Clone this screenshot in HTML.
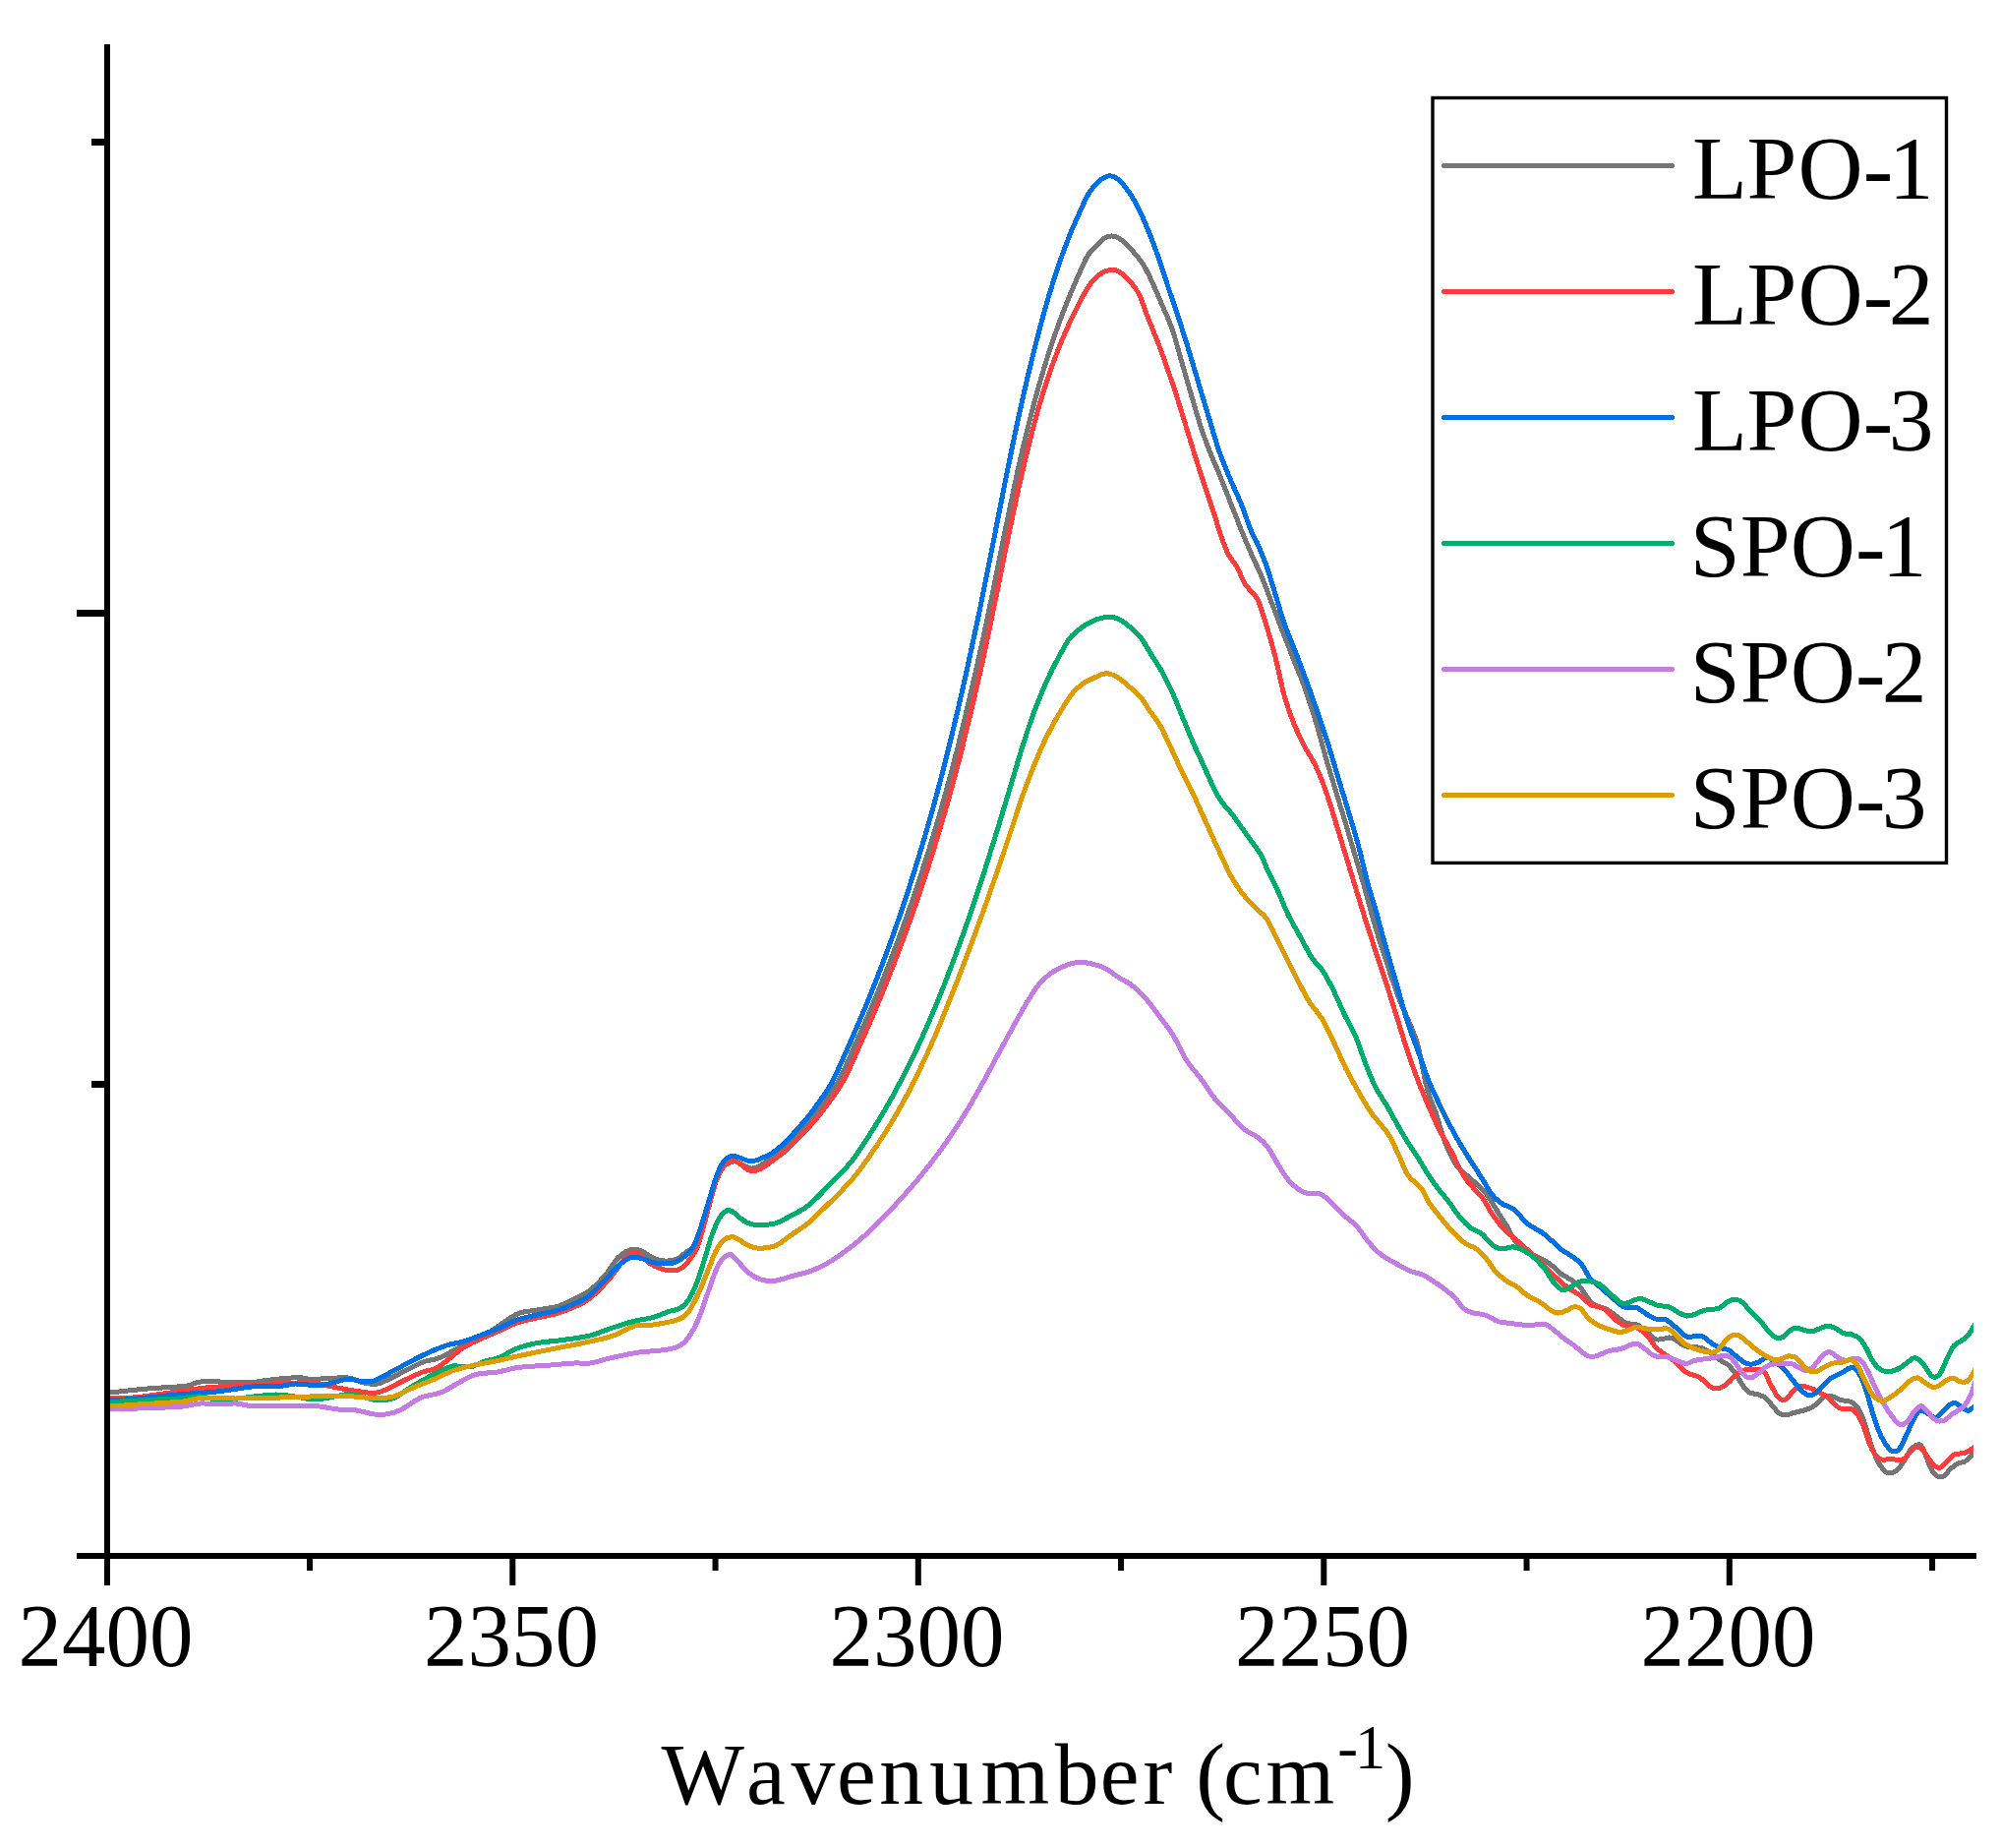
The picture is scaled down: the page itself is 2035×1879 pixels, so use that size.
<!DOCTYPE html>
<html lang="en"><head><meta charset="utf-8"><title>FTIR spectra 2400-2170 cm-1</title>
<style>html,body{margin:0;padding:0;background:#fff;}body{width:2035px;height:1879px;overflow:hidden;}svg{display:block;}text{font-family:'Liberation Serif', 'DejaVu Serif', serif;fill:#000;}</style></head><body>
<svg width="2035" height="1879" viewBox="0 0 2035 1879">
<rect x="0" y="0" width="2035" height="1879" fill="#fff"/>
<defs><clipPath id="plotclip"><rect x="109" y="40" width="1898" height="1542"/></clipPath></defs>
<g clip-path="url(#plotclip)" fill="none" stroke-width="5" stroke-linejoin="round" stroke-linecap="round" shape-rendering="crispEdges">
<path stroke="#757575" d="M100.0 1417.0C104.0 1416.7 108.0 1416.4 112.0 1416.0C124.7 1414.7 137.3 1413.1 150.0 1412.0C163.3 1410.8 176.7 1410.7 190.0 1409.0C194.7 1408.4 199.3 1405.5 204.0 1405.0C210.7 1404.2 217.3 1404.9 224.0 1405.0C234.7 1405.1 245.3 1405.9 256.0 1405.6C260.7 1405.5 265.3 1404.1 270.0 1403.6C278.7 1402.6 287.3 1401.6 296.0 1401.0C300.0 1400.7 304.0 1400.7 308.0 1401.0C310.7 1401.2 313.3 1402.4 316.0 1402.4C328.7 1402.4 341.3 1400.2 354.0 1401.0C359.3 1401.4 364.7 1404.9 370.0 1406.0C374.7 1406.9 379.3 1407.9 384.0 1407.0C389.3 1405.9 394.7 1402.6 400.0 1400.0C410.0 1395.2 420.0 1389.1 430.0 1385.0C435.3 1382.8 440.7 1383.0 446.0 1381.0C450.7 1379.3 455.3 1376.3 460.0 1374.0C466.7 1370.7 473.3 1367.5 480.0 1364.0C486.7 1360.5 493.3 1357.1 500.0 1353.0C508.7 1347.7 517.3 1340.0 526.0 1336.0C532.7 1333.0 539.3 1333.3 546.0 1332.0C553.3 1330.6 560.7 1330.2 568.0 1328.0C574.0 1326.2 580.0 1323.0 586.0 1320.0C590.7 1317.7 595.3 1315.7 600.0 1312.0C605.3 1307.7 610.7 1302.2 616.0 1296.0C620.0 1291.4 624.0 1284.1 628.0 1279.5C630.7 1276.4 633.3 1274.5 636.0 1273.0C638.7 1271.5 641.3 1270.5 644.0 1270.3C646.7 1270.1 649.3 1270.4 652.0 1271.6C656.0 1273.3 660.0 1277.3 664.0 1279.0C668.0 1280.7 672.0 1281.8 676.0 1282.0C680.0 1282.2 684.0 1282.0 688.0 1280.4C691.3 1279.0 694.7 1275.4 698.0 1273.0C701.3 1270.6 704.7 1270.8 708.0 1266.0C710.0 1263.1 712.0 1256.5 714.0 1250.0C716.3 1242.5 718.7 1231.9 721.0 1224.0C723.7 1214.9 726.3 1206.0 729.0 1199.0C731.0 1193.7 733.0 1189.6 735.0 1187.0C737.3 1183.9 739.7 1183.1 742.0 1182.0C744.0 1181.1 746.0 1180.6 748.0 1181.0C750.7 1181.6 753.3 1183.8 756.0 1185.0C758.7 1186.2 761.3 1187.8 764.0 1188.0C766.7 1188.2 769.3 1187.5 772.0 1186.0C776.7 1183.5 781.3 1179.7 786.0 1176.0C790.7 1172.3 795.3 1168.5 800.0 1164.0C802.2 1161.9 804.4 1158.3 806.6 1156.0C809.9 1152.6 813.1 1150.5 816.4 1147.0C820.5 1142.5 824.7 1137.4 828.8 1132.0C836.6 1121.8 844.4 1113.3 852.2 1100.0C858.1 1090.0 864.0 1075.1 869.9 1062.0C875.4 1049.7 881.0 1037.2 886.5 1024.0C892.3 1010.2 898.1 996.0 903.9 981.0C910.1 965.0 916.3 948.5 922.5 931.0C928.1 915.2 933.7 898.4 939.3 881.0C944.5 864.7 949.8 848.2 955.0 830.0C961.3 807.9 967.7 785.4 974.0 760.0C981.8 728.7 989.6 694.8 997.4 660.0C1002.4 637.5 1007.5 612.5 1012.5 588.0C1015.7 572.5 1018.9 555.7 1022.1 540.0C1025.3 524.3 1028.5 508.8 1031.7 494.0C1035.1 478.3 1038.5 462.8 1041.9 448.7C1046.0 431.8 1050.0 415.9 1054.1 401.0C1057.9 387.0 1061.8 374.1 1065.6 362.0C1069.3 350.4 1072.9 339.8 1076.6 329.7C1080.2 319.7 1083.9 310.4 1087.5 301.5C1090.9 293.1 1094.4 285.3 1097.8 277.7C1100.7 271.2 1103.7 263.8 1106.6 259.3C1110.5 253.3 1114.5 250.2 1118.4 246.3C1120.5 244.2 1122.7 242.3 1124.8 241.3C1127.0 240.2 1129.1 239.9 1131.3 240.0C1133.5 240.1 1135.6 240.5 1137.8 242.0C1141.5 244.5 1145.3 248.1 1149.0 252.0C1152.6 255.8 1156.3 260.2 1159.9 265.0C1161.7 267.4 1163.5 270.4 1165.3 273.6C1167.1 276.9 1168.9 280.5 1170.7 284.5C1174.3 292.5 1177.9 300.9 1181.5 309.4C1185.1 317.9 1188.7 324.8 1192.3 335.3C1195.7 345.3 1199.2 359.0 1202.6 370.8C1206.2 383.1 1209.7 395.5 1213.3 407.6C1216.1 417.2 1219.0 427.2 1221.8 435.7C1224.7 444.5 1227.6 452.1 1230.5 459.5C1233.8 468.0 1237.2 475.1 1240.5 483.3C1244.5 493.1 1248.4 503.5 1252.4 513.6C1255.9 522.4 1259.3 531.5 1262.8 540.0C1266.2 548.2 1269.5 556.1 1272.9 563.8C1276.5 572.0 1280.0 579.0 1283.6 587.6C1287.2 596.3 1290.8 606.4 1294.4 615.8C1298.0 625.1 1301.5 634.7 1305.1 643.9C1308.8 653.4 1312.4 662.7 1316.1 672.0C1319.8 681.5 1323.6 689.7 1327.3 700.2C1331.0 710.7 1334.8 722.3 1338.5 734.8C1342.1 746.8 1345.7 761.5 1349.3 773.8C1355.5 794.9 1361.6 814.4 1367.8 835.0C1374.2 856.4 1380.6 877.8 1387.0 900.0C1391.0 913.9 1395.0 929.9 1399.0 943.3C1403.3 957.9 1407.7 970.9 1412.0 984.0C1415.4 994.4 1418.9 1004.9 1422.3 1014.0C1425.5 1022.6 1428.8 1029.1 1432.0 1037.0C1435.1 1044.5 1438.1 1050.1 1441.2 1060.0C1442.8 1065.1 1444.4 1074.5 1446.0 1082.0C1447.5 1088.9 1448.9 1097.3 1450.4 1103.0C1452.2 1109.9 1453.9 1114.9 1455.7 1120.0C1457.1 1124.2 1458.6 1126.7 1460.0 1130.8C1461.1 1133.9 1462.2 1138.0 1463.3 1141.6C1464.7 1146.3 1466.2 1151.7 1467.6 1155.7C1469.8 1161.8 1471.9 1167.5 1474.1 1172.0C1477.0 1178.0 1479.9 1183.4 1482.8 1187.1C1486.4 1191.7 1490.0 1193.6 1493.6 1196.8C1496.5 1199.4 1499.4 1201.7 1502.3 1204.4C1505.2 1207.1 1508.0 1209.6 1510.9 1213.1C1513.1 1215.7 1515.2 1219.4 1517.4 1222.8C1520.3 1227.3 1523.2 1232.2 1526.1 1236.9C1528.6 1240.9 1531.1 1244.5 1533.6 1248.8C1535.8 1252.5 1537.9 1257.7 1540.1 1260.7C1543.4 1265.2 1546.6 1269.2 1549.9 1271.5C1555.3 1275.3 1560.7 1276.3 1566.1 1279.1C1569.7 1281.0 1573.3 1282.9 1576.9 1285.6C1580.5 1288.3 1584.1 1292.6 1587.7 1295.3C1591.3 1298.0 1595.0 1299.1 1598.6 1301.8C1601.8 1304.2 1605.1 1306.9 1608.3 1310.5C1610.5 1312.9 1612.6 1317.3 1614.8 1320.0C1616.9 1322.7 1619.1 1325.3 1621.2 1326.6C1625.5 1329.2 1629.9 1329.2 1634.2 1331.5C1638.0 1333.5 1641.8 1336.9 1645.6 1339.6C1648.3 1341.5 1651.0 1344.3 1653.7 1345.3C1657.5 1346.7 1661.2 1345.4 1665.0 1347.0C1668.3 1348.4 1671.5 1351.6 1674.8 1354.2C1677.5 1356.4 1680.3 1360.3 1683.0 1361.5C1685.7 1362.7 1688.3 1361.8 1691.0 1361.5C1693.2 1361.3 1695.3 1359.9 1697.5 1360.0C1699.7 1360.1 1701.8 1361.1 1704.0 1362.3C1707.3 1364.1 1710.5 1367.8 1713.8 1368.8C1719.2 1370.5 1724.6 1369.1 1730.0 1370.5C1733.2 1371.3 1736.5 1373.2 1739.7 1375.3C1743.1 1377.5 1746.6 1381.0 1750.0 1383.4C1752.6 1385.2 1755.1 1385.7 1757.7 1388.0C1760.3 1390.3 1762.8 1393.7 1765.4 1397.3C1767.9 1400.9 1770.5 1406.2 1773.0 1409.6C1775.1 1412.4 1777.2 1414.7 1779.3 1415.8C1782.4 1417.5 1785.5 1416.9 1788.6 1418.0C1791.2 1418.9 1793.7 1419.8 1796.3 1422.0C1798.9 1424.2 1801.4 1428.3 1804.0 1431.2C1806.0 1433.4 1808.0 1436.1 1810.0 1437.4C1812.1 1438.7 1814.2 1439.0 1816.3 1438.9C1818.9 1438.8 1821.4 1437.3 1824.0 1436.6C1827.1 1435.8 1830.2 1435.2 1833.3 1434.3C1836.4 1433.4 1839.4 1432.9 1842.5 1431.2C1845.1 1429.8 1847.6 1427.1 1850.2 1425.0C1852.3 1423.3 1854.3 1420.5 1856.4 1419.6C1858.5 1418.7 1860.5 1419.1 1862.6 1419.6C1865.7 1420.4 1868.7 1422.6 1871.8 1423.5C1874.9 1424.4 1877.9 1423.9 1881.0 1425.0C1883.1 1425.7 1885.2 1426.5 1887.3 1428.9C1889.3 1431.2 1891.4 1434.4 1893.4 1438.9C1894.9 1442.3 1896.5 1448.0 1898.0 1452.8C1899.6 1457.7 1901.1 1463.5 1902.7 1468.2C1904.2 1472.8 1905.8 1476.9 1907.3 1480.5C1908.9 1484.1 1910.4 1487.4 1912.0 1489.8C1914.0 1492.8 1916.0 1495.4 1918.0 1496.7C1920.1 1498.0 1922.2 1498.0 1924.3 1497.5C1926.3 1497.0 1928.4 1495.6 1930.4 1493.6C1932.5 1491.5 1934.5 1488.4 1936.6 1485.2C1938.7 1482.0 1940.7 1477.0 1942.8 1474.4C1944.9 1471.8 1946.9 1470.3 1949.0 1469.4C1950.5 1468.7 1952.1 1468.1 1953.6 1469.7C1955.1 1471.3 1956.7 1475.4 1958.2 1479.0C1959.7 1482.6 1961.3 1488.0 1962.8 1491.3C1964.4 1494.7 1965.9 1497.2 1967.5 1499.0C1969.0 1500.7 1970.5 1501.5 1972.0 1501.8C1973.6 1502.1 1975.1 1502.0 1976.7 1500.9C1979.3 1499.1 1981.8 1495.2 1984.4 1492.9C1986.5 1491.0 1988.5 1489.3 1990.6 1488.3C1993.2 1487.0 1995.7 1487.3 1998.3 1486.0C1999.9 1485.2 2001.4 1483.4 2003.0 1482.0C2004.3 1480.8 2005.5 1479.5 2006.8 1478.2C2008.5 1476.5 2010.3 1474.7 2012.0 1473.0"/>
<path stroke="#ff3c3c" d="M100.0 1422.5C104.0 1422.3 108.0 1422.2 112.0 1422.0C121.3 1421.6 130.7 1421.7 140.0 1420.6C161.3 1418.2 182.7 1414.3 204.0 1411.6C212.0 1410.6 220.0 1410.2 228.0 1409.6C237.3 1409.0 246.7 1408.5 256.0 1408.0C267.3 1407.4 278.7 1406.9 290.0 1406.5C300.0 1406.2 310.0 1405.3 320.0 1406.0C325.3 1406.4 330.7 1408.5 336.0 1409.6C344.0 1411.2 352.0 1412.8 360.0 1414.0C366.7 1415.0 373.3 1416.4 380.0 1416.4C383.3 1416.4 386.7 1415.4 390.0 1414.0C396.7 1411.2 403.3 1407.2 410.0 1404.0C416.7 1400.8 423.3 1397.5 430.0 1395.0C434.7 1393.2 439.3 1393.5 444.0 1391.0C449.3 1388.2 454.7 1383.1 460.0 1379.0C463.3 1376.4 466.7 1373.1 470.0 1371.0C475.0 1367.8 480.0 1365.4 485.0 1363.0C492.0 1359.7 499.0 1357.1 506.0 1354.0C512.7 1351.1 519.3 1347.3 526.0 1345.0C532.7 1342.7 539.3 1341.6 546.0 1340.0C553.3 1338.3 560.7 1337.2 568.0 1335.0C574.0 1333.2 580.0 1330.8 586.0 1328.0C590.7 1325.8 595.3 1323.8 600.0 1320.0C606.7 1314.5 613.3 1307.5 620.0 1300.0C624.0 1295.5 628.0 1289.0 632.0 1284.0C634.7 1280.7 637.3 1276.9 640.0 1275.0C642.0 1273.6 644.0 1273.8 646.0 1274.0C648.0 1274.2 650.0 1274.6 652.0 1276.0C654.7 1277.9 657.3 1282.1 660.0 1284.0C664.0 1286.8 668.0 1288.6 672.0 1290.0C675.3 1291.2 678.7 1291.6 682.0 1291.6C685.3 1291.6 688.7 1291.9 692.0 1290.0C695.3 1288.1 698.7 1284.4 702.0 1280.0C704.7 1276.4 707.3 1273.4 710.0 1266.0C713.3 1256.7 716.7 1241.9 720.0 1230.0C722.7 1220.5 725.3 1209.3 728.0 1202.0C730.7 1194.7 733.3 1189.7 736.0 1186.0C738.7 1182.3 741.3 1180.5 744.0 1180.0C746.7 1179.5 749.3 1181.5 752.0 1183.0C754.7 1184.5 757.3 1187.5 760.0 1189.0C762.0 1190.1 764.0 1191.1 766.0 1191.0C768.7 1190.8 771.3 1189.5 774.0 1188.0C778.0 1185.8 782.0 1182.9 786.0 1180.0C790.7 1176.6 795.3 1173.2 800.0 1169.0C804.9 1164.5 809.9 1159.2 814.8 1154.0C820.4 1148.2 825.9 1143.1 831.5 1136.0C840.0 1125.1 848.5 1114.7 857.0 1100.0C863.4 1089.0 869.7 1073.2 876.1 1059.0C882.1 1045.7 888.0 1032.0 894.0 1017.6C899.8 1003.6 905.6 989.2 911.4 974.0C917.4 958.2 923.5 941.8 929.5 924.5C935.5 907.2 941.6 889.1 947.6 870.0C953.0 853.0 958.3 834.8 963.7 816.0C967.8 801.5 972.0 786.6 976.1 770.0C983.2 741.5 990.3 712.2 997.4 680.7C1002.7 657.2 1008.0 630.6 1013.3 605.0C1017.0 587.0 1020.8 568.0 1024.5 550.0C1027.5 535.4 1030.6 520.7 1033.6 507.0C1037.1 491.3 1040.5 475.9 1044.0 461.7C1047.9 445.6 1051.9 430.1 1055.8 416.2C1059.6 402.7 1063.5 390.7 1067.3 379.4C1070.8 369.1 1074.3 360.0 1077.8 351.3C1081.6 342.0 1085.3 333.4 1089.1 325.3C1093.1 316.8 1097.1 308.7 1101.1 301.5C1104.3 295.7 1107.5 290.3 1110.7 286.4C1114.1 282.3 1117.4 279.5 1120.8 277.3C1123.5 275.5 1126.3 274.9 1129.0 274.5C1131.2 274.2 1133.4 274.1 1135.6 275.0C1138.5 276.2 1141.4 278.4 1144.3 281.0C1147.2 283.6 1150.1 286.8 1153.0 290.7C1155.1 293.6 1157.3 296.7 1159.4 301.5C1162.1 307.6 1164.8 316.3 1167.5 323.2C1171.0 332.1 1174.4 339.9 1177.9 349.0C1181.5 358.6 1185.2 368.9 1188.8 379.4C1191.9 388.4 1195.1 397.8 1198.2 407.6C1201.3 417.3 1204.4 427.8 1207.5 437.9C1210.6 448.0 1213.7 458.4 1216.8 468.2C1220.3 479.3 1223.9 489.9 1227.4 500.6C1230.3 509.3 1233.1 517.7 1236.0 526.6C1237.9 532.5 1239.8 539.7 1241.7 545.0C1244.2 552.1 1246.8 558.9 1249.3 563.8C1252.2 569.5 1255.2 571.6 1258.1 576.8C1260.6 581.2 1263.0 588.3 1265.5 592.5C1267.8 596.5 1270.2 598.6 1272.5 601.5C1274.7 604.2 1276.8 604.9 1279.0 609.5C1281.5 614.7 1283.9 623.0 1286.4 631.0C1289.9 642.4 1293.4 654.1 1296.9 667.7C1299.9 679.3 1302.9 695.9 1305.9 706.7C1309.1 718.2 1312.3 726.8 1315.5 734.8C1319.2 744.1 1322.9 751.4 1326.6 758.6C1330.3 765.8 1333.9 770.3 1337.6 778.0C1341.2 785.5 1344.7 793.7 1348.3 804.0C1353.2 818.0 1358.0 835.2 1362.9 851.0C1367.9 867.2 1372.8 883.7 1377.8 900.0C1381.1 910.9 1384.5 921.9 1387.8 932.5C1391.5 944.2 1395.2 955.7 1398.9 967.0C1402.5 978.0 1406.1 988.5 1409.7 999.6C1413.3 1010.9 1417.0 1022.6 1420.6 1034.2C1424.2 1045.7 1427.8 1058.0 1431.4 1068.8C1435.0 1079.6 1438.6 1089.6 1442.2 1099.0C1445.8 1108.4 1449.4 1116.7 1453.0 1125.0C1456.6 1133.4 1460.3 1141.7 1463.9 1149.0C1467.5 1156.2 1471.1 1161.6 1474.7 1168.4C1478.3 1175.2 1481.9 1183.4 1485.5 1190.0C1488.0 1194.6 1490.5 1198.8 1493.0 1202.0C1497.9 1208.1 1502.7 1211.5 1507.6 1217.9C1510.8 1222.2 1514.1 1229.3 1517.3 1234.0C1521.1 1239.5 1524.9 1244.7 1528.7 1248.7C1534.1 1254.4 1539.6 1258.4 1545.0 1263.3C1550.4 1268.2 1555.8 1272.8 1561.2 1277.9C1566.6 1283.1 1572.0 1289.0 1577.4 1294.2C1582.8 1299.3 1588.2 1304.6 1593.6 1308.8C1597.9 1312.2 1602.3 1313.7 1606.6 1316.9C1610.4 1319.7 1614.2 1324.5 1618.0 1326.6C1622.3 1329.1 1626.7 1328.1 1631.0 1330.7C1634.8 1333.0 1638.5 1338.2 1642.3 1341.2C1645.5 1343.8 1648.8 1346.4 1652.0 1347.7C1655.8 1349.2 1659.6 1347.8 1663.4 1349.4C1667.2 1351.0 1671.0 1353.7 1674.8 1357.5C1678.0 1360.7 1681.3 1367.1 1684.5 1370.5C1687.8 1373.9 1691.0 1375.4 1694.3 1377.8C1697.5 1380.2 1700.8 1382.3 1704.0 1385.0C1707.8 1388.2 1711.6 1393.2 1715.4 1395.6C1719.7 1398.4 1724.1 1397.9 1728.4 1400.5C1732.2 1402.8 1735.9 1407.8 1739.7 1410.2C1741.8 1411.5 1743.9 1411.5 1746.0 1411.5C1748.0 1411.5 1750.0 1411.0 1752.0 1410.0C1754.0 1409.0 1756.0 1407.3 1758.0 1405.5C1760.5 1403.3 1762.9 1400.0 1765.4 1398.0C1767.9 1396.0 1770.5 1394.3 1773.0 1393.4C1775.6 1392.4 1778.2 1392.5 1780.8 1392.3C1783.4 1392.1 1786.0 1391.7 1788.6 1392.3C1790.6 1392.8 1792.7 1393.1 1794.7 1395.7C1796.8 1398.3 1798.8 1404.1 1800.9 1408.0C1802.9 1411.8 1805.0 1416.0 1807.0 1418.9C1808.6 1421.1 1810.1 1422.6 1811.7 1423.2C1813.2 1423.8 1814.8 1423.8 1816.3 1422.7C1818.4 1421.3 1820.4 1417.8 1822.5 1415.8C1824.6 1413.8 1826.6 1411.4 1828.7 1410.4C1830.7 1409.4 1832.8 1409.4 1834.8 1409.6C1837.4 1409.9 1839.9 1410.9 1842.5 1411.9C1845.1 1412.9 1847.6 1414.4 1850.2 1415.8C1852.8 1417.2 1855.4 1418.4 1858.0 1420.4C1860.6 1422.4 1863.1 1425.8 1865.7 1428.0C1867.7 1429.7 1869.8 1431.4 1871.8 1432.0C1875.4 1433.0 1879.0 1431.6 1882.6 1432.7C1884.7 1433.4 1886.7 1434.6 1888.8 1437.4C1890.9 1440.2 1892.9 1444.7 1895.0 1449.7C1896.5 1453.4 1898.1 1459.5 1899.6 1463.6C1901.1 1467.7 1902.7 1471.5 1904.2 1474.4C1905.8 1477.4 1907.3 1479.7 1908.9 1481.3C1910.4 1482.9 1912.0 1483.7 1913.5 1484.0C1916.6 1484.5 1919.6 1483.6 1922.7 1483.6C1926.8 1483.6 1930.9 1485.2 1935.0 1484.0C1937.1 1483.4 1939.1 1480.2 1941.2 1478.2C1943.3 1476.2 1945.3 1473.0 1947.4 1472.0C1949.5 1471.0 1951.5 1471.1 1953.6 1472.5C1955.6 1473.9 1957.7 1477.8 1959.7 1480.5C1961.8 1483.3 1963.9 1486.8 1966.0 1489.0C1967.5 1490.6 1969.0 1491.6 1970.5 1492.0C1972.0 1492.4 1973.5 1492.4 1975.0 1491.3C1977.1 1489.8 1979.2 1486.5 1981.3 1484.4C1983.4 1482.4 1985.4 1479.9 1987.5 1479.0C1990.6 1477.6 1993.7 1478.3 1996.8 1477.5C1998.9 1477.0 2000.9 1476.1 2003.0 1475.0C2004.3 1474.3 2005.5 1473.0 2006.8 1472.0C2008.5 1470.7 2010.3 1469.3 2012.0 1468.0"/>
<path stroke="#0070e5" d="M100.0 1424.5C104.0 1424.3 108.0 1424.2 112.0 1424.0C121.3 1423.4 130.7 1422.8 140.0 1422.0C153.3 1420.8 166.7 1419.2 180.0 1418.0C193.3 1416.8 206.7 1416.4 220.0 1415.0C233.3 1413.6 246.7 1410.8 260.0 1409.6C269.3 1408.8 278.7 1409.6 288.0 1409.0C292.0 1408.7 296.0 1407.0 300.0 1407.0C306.7 1406.9 313.3 1408.4 320.0 1408.6C323.3 1408.7 326.7 1408.6 330.0 1408.0C337.3 1406.6 344.7 1403.6 352.0 1402.4C354.7 1402.0 357.3 1402.7 360.0 1403.0C362.7 1403.3 365.3 1404.3 368.0 1404.4C372.0 1404.6 376.0 1405.2 380.0 1404.0C385.3 1402.4 390.7 1398.8 396.0 1396.0C407.3 1390.1 418.7 1383.5 430.0 1378.0C438.0 1374.1 446.0 1370.7 454.0 1368.0C459.3 1366.2 464.7 1365.8 470.0 1364.4C473.3 1363.5 476.7 1362.2 480.0 1361.0C488.7 1357.8 497.3 1354.6 506.0 1351.0C512.7 1348.2 519.3 1344.3 526.0 1342.0C532.7 1339.7 539.3 1338.6 546.0 1337.0C553.3 1335.3 560.7 1334.2 568.0 1332.0C574.0 1330.2 580.0 1327.8 586.0 1325.0C590.7 1322.8 595.3 1320.7 600.0 1317.0C605.3 1312.7 610.7 1306.5 616.0 1301.0C620.0 1296.9 624.0 1291.8 628.0 1288.0C631.3 1284.8 634.7 1281.9 638.0 1280.0C640.7 1278.5 643.3 1278.0 646.0 1278.0C648.7 1278.0 651.3 1279.2 654.0 1280.0C657.3 1281.0 660.7 1282.8 664.0 1283.6C668.0 1284.5 672.0 1285.1 676.0 1285.0C680.0 1284.9 684.0 1284.6 688.0 1283.0C691.3 1281.6 694.7 1279.1 698.0 1276.0C700.7 1273.5 703.3 1271.0 706.0 1266.0C708.0 1262.3 710.0 1256.0 712.0 1250.0C714.7 1242.0 717.3 1232.7 720.0 1224.0C722.7 1215.3 725.3 1205.6 728.0 1198.0C730.0 1192.3 732.0 1187.5 734.0 1184.0C736.0 1180.5 738.0 1178.4 740.0 1177.0C742.0 1175.6 744.0 1175.6 746.0 1175.6C748.0 1175.6 750.0 1176.4 752.0 1177.0C754.7 1177.8 757.3 1179.5 760.0 1180.0C762.7 1180.5 765.3 1180.5 768.0 1180.0C770.7 1179.5 773.3 1178.2 776.0 1177.0C779.3 1175.5 782.7 1174.4 786.0 1172.0C790.7 1168.7 795.3 1164.6 800.0 1160.0C805.5 1154.6 810.9 1148.2 816.4 1142.0C819.1 1138.9 821.9 1135.8 824.6 1132.0C831.5 1122.5 838.3 1114.1 845.2 1102.0C850.6 1092.4 856.1 1079.1 861.5 1067.0C867.4 1053.8 873.3 1040.3 879.2 1026.0C885.2 1011.6 891.1 996.8 897.1 981.0C903.3 964.5 909.6 947.3 915.8 929.0C921.4 912.6 927.0 895.3 932.6 877.0C938.3 858.4 944.0 839.1 949.7 818.4C955.1 798.9 960.4 778.3 965.8 756.5C971.2 734.5 976.7 711.2 982.1 687.0C986.7 666.4 991.4 644.3 996.0 622.0C999.2 606.8 1002.3 590.4 1005.5 574.6C1007.1 566.4 1008.8 558.3 1010.4 550.0C1014.5 529.3 1018.6 508.0 1022.7 487.7C1026.6 468.5 1030.4 449.4 1034.3 431.4C1038.0 414.0 1041.8 397.4 1045.5 381.6C1049.1 366.4 1052.7 352.0 1056.3 338.3C1059.9 324.6 1063.5 311.5 1067.1 299.4C1070.6 287.7 1074.1 277.0 1077.6 266.9C1081.1 256.8 1084.6 247.4 1088.1 238.7C1091.5 230.1 1095.0 222.5 1098.4 215.0C1101.4 208.4 1104.4 201.2 1107.4 196.5C1111.1 190.7 1114.9 187.1 1118.6 183.5C1120.7 181.5 1122.9 180.7 1125.0 179.7C1126.3 179.1 1127.7 178.7 1129.0 178.8C1130.8 178.9 1132.7 179.0 1134.5 180.3C1137.8 182.7 1141.0 185.9 1144.3 190.0C1147.9 194.5 1151.4 199.7 1155.0 206.3C1158.7 213.1 1162.3 221.3 1166.0 230.0C1169.6 238.6 1173.2 248.1 1176.8 258.2C1180.4 268.3 1184.0 279.9 1187.6 290.7C1191.2 301.6 1194.9 312.1 1198.5 323.2C1202.2 334.4 1205.8 345.8 1209.5 357.8C1213.1 369.6 1216.8 382.4 1220.4 394.6C1224.1 406.9 1227.7 419.3 1231.4 431.4C1234.3 441.0 1237.2 451.2 1240.1 459.5C1243.5 469.3 1247.0 477.3 1250.4 485.5C1254.5 495.4 1258.7 503.4 1262.8 513.6C1266.0 521.6 1269.3 532.2 1272.5 540.0C1275.0 546.0 1277.4 549.3 1279.9 555.0C1282.7 561.6 1285.6 568.6 1288.4 576.8C1291.3 585.3 1294.3 595.5 1297.2 605.0C1300.1 614.3 1302.9 624.8 1305.8 633.0C1309.5 643.5 1313.1 651.7 1316.8 661.2C1320.4 670.5 1323.9 679.7 1327.5 689.4C1331.1 699.2 1334.7 709.4 1338.3 719.7C1341.7 729.6 1345.2 739.3 1348.6 750.0C1352.1 761.0 1355.7 773.3 1359.2 785.0C1362.8 797.0 1366.5 808.8 1370.1 821.0C1373.7 833.2 1377.4 844.6 1381.0 858.0C1384.5 870.9 1388.0 886.9 1391.5 900.0C1393.9 908.8 1396.2 915.5 1398.6 923.8C1402.0 935.7 1405.3 948.7 1408.7 960.6C1412.5 973.9 1416.2 986.6 1420.0 999.6C1423.7 1012.5 1427.5 1026.9 1431.2 1038.5C1434.9 1049.9 1438.5 1058.6 1442.2 1068.8C1445.8 1078.8 1449.4 1090.0 1453.0 1099.0C1456.6 1108.1 1460.3 1115.4 1463.9 1123.0C1467.5 1130.6 1471.1 1137.8 1474.7 1144.6C1478.3 1151.4 1481.9 1157.9 1485.5 1164.0C1489.1 1170.1 1492.7 1175.7 1496.3 1181.4C1500.0 1187.2 1503.7 1192.7 1507.4 1198.5C1510.7 1203.7 1514.0 1210.4 1517.3 1214.6C1520.5 1218.7 1523.8 1221.3 1527.0 1223.5C1531.3 1226.4 1535.7 1226.6 1540.0 1230.0C1544.3 1233.4 1548.7 1240.3 1553.0 1243.8C1559.0 1248.7 1565.0 1250.6 1571.0 1255.2C1576.3 1259.3 1581.7 1265.6 1587.0 1269.8C1591.9 1273.7 1596.9 1275.7 1601.8 1279.5C1604.5 1281.6 1607.3 1284.0 1610.0 1287.7C1612.1 1290.5 1614.3 1296.5 1616.4 1299.0C1620.7 1304.1 1625.1 1306.6 1629.4 1310.4C1633.7 1314.2 1638.0 1318.3 1642.3 1321.8C1645.5 1324.5 1648.8 1327.8 1652.0 1329.0C1656.3 1330.5 1660.7 1328.5 1665.0 1329.9C1668.3 1331.0 1671.5 1334.5 1674.8 1336.4C1678.0 1338.3 1681.3 1340.3 1684.5 1341.2C1687.8 1342.1 1691.0 1340.6 1694.3 1342.0C1697.5 1343.4 1700.8 1346.8 1704.0 1349.4C1707.8 1352.5 1711.6 1357.7 1715.4 1359.0C1720.3 1360.7 1725.1 1356.9 1730.0 1358.3C1734.3 1359.6 1738.7 1364.7 1743.0 1367.2C1746.2 1369.1 1749.5 1370.3 1752.7 1371.5C1754.4 1372.1 1756.0 1371.5 1757.7 1372.5C1760.3 1374.0 1762.8 1376.8 1765.4 1378.8C1768.5 1381.2 1771.6 1384.0 1774.7 1385.7C1776.7 1386.8 1778.8 1387.3 1780.8 1387.2C1783.4 1387.1 1786.0 1386.2 1788.6 1385.0C1791.2 1383.9 1793.7 1380.3 1796.3 1380.3C1799.4 1380.3 1802.4 1383.0 1805.5 1385.0C1808.6 1387.1 1811.7 1389.4 1814.8 1392.6C1817.9 1395.8 1820.9 1400.5 1824.0 1404.2C1827.1 1408.0 1830.2 1412.3 1833.3 1415.0C1835.9 1417.2 1838.4 1418.8 1841.0 1418.9C1843.1 1419.0 1845.1 1417.4 1847.2 1415.8C1849.8 1413.8 1852.3 1410.5 1854.9 1408.0C1857.5 1405.5 1860.0 1402.7 1862.6 1401.0C1866.2 1398.6 1869.8 1397.7 1873.4 1395.7C1875.9 1394.3 1878.5 1392.0 1881.0 1391.0C1882.6 1390.4 1884.1 1389.9 1885.7 1391.0C1887.8 1392.5 1889.9 1394.8 1892.0 1398.8C1894.0 1402.6 1896.0 1408.1 1898.0 1414.2C1900.1 1420.5 1902.1 1429.1 1904.2 1435.8C1906.3 1442.5 1908.3 1449.1 1910.4 1454.3C1912.5 1459.4 1914.5 1463.3 1916.6 1466.7C1918.6 1470.0 1920.7 1472.7 1922.7 1474.4C1924.3 1475.7 1925.8 1476.2 1927.4 1475.9C1928.9 1475.6 1930.5 1475.0 1932.0 1472.8C1934.1 1469.9 1936.1 1464.9 1938.2 1460.5C1940.2 1456.2 1942.3 1450.7 1944.3 1446.6C1946.4 1442.4 1948.4 1438.2 1950.5 1435.8C1952.0 1434.1 1953.5 1433.9 1955.0 1434.3C1957.6 1435.0 1960.2 1437.6 1962.8 1438.9C1964.9 1439.9 1966.9 1441.9 1969.0 1441.2C1971.6 1440.4 1974.1 1436.6 1976.7 1434.3C1979.3 1432.0 1981.8 1428.8 1984.4 1427.3C1985.9 1426.4 1987.5 1426.3 1989.0 1426.9C1991.6 1427.9 1994.2 1430.4 1996.8 1432.0C1998.3 1432.9 1999.9 1434.4 2001.4 1434.3C2003.2 1434.2 2005.0 1432.4 2006.8 1431.2C2008.5 1430.0 2010.3 1428.4 2012.0 1427.0"/>
<path stroke="#00ae6b" d="M100.0 1426.0C104.0 1425.9 108.0 1425.8 112.0 1425.6C121.3 1425.1 130.7 1424.5 140.0 1424.0C153.3 1423.3 166.7 1422.8 180.0 1422.0C188.0 1421.5 196.0 1419.7 204.0 1420.0C210.7 1420.2 217.3 1423.5 224.0 1423.6C232.7 1423.8 241.3 1421.9 250.0 1421.0C260.0 1420.0 270.0 1418.2 280.0 1418.0C286.7 1417.9 293.3 1419.2 300.0 1420.0C306.7 1420.8 313.3 1423.0 320.0 1423.0C326.7 1423.0 333.3 1421.0 340.0 1420.0C345.3 1419.2 350.7 1417.4 356.0 1417.6C361.3 1417.8 366.7 1419.8 372.0 1421.0C376.0 1421.9 380.0 1423.9 384.0 1424.0C389.3 1424.1 394.7 1423.8 400.0 1421.6C406.7 1418.8 413.3 1412.9 420.0 1409.0C426.7 1405.1 433.3 1401.3 440.0 1398.0C446.7 1394.7 453.3 1390.9 460.0 1389.0C463.3 1388.1 466.7 1389.5 470.0 1389.6C473.3 1389.7 476.7 1390.3 480.0 1389.5C484.3 1388.4 488.7 1385.4 493.0 1384.0C497.3 1382.6 501.7 1382.7 506.0 1381.0C512.7 1378.4 519.3 1373.6 526.0 1371.0C532.7 1368.4 539.3 1366.9 546.0 1365.6C553.3 1364.2 560.7 1364.0 568.0 1363.0C578.7 1361.5 589.3 1360.5 600.0 1358.0C606.7 1356.5 613.3 1353.2 620.0 1351.0C628.7 1348.2 637.3 1345.2 646.0 1343.0C652.0 1341.4 658.0 1341.3 664.0 1339.6C669.3 1338.1 674.7 1335.4 680.0 1333.6C684.0 1332.2 688.0 1332.3 692.0 1330.0C694.7 1328.5 697.3 1326.0 700.0 1322.0C702.7 1318.0 705.3 1312.7 708.0 1306.0C710.7 1299.3 713.3 1290.3 716.0 1282.0C718.7 1273.7 721.3 1263.3 724.0 1256.0C726.7 1248.7 729.3 1242.6 732.0 1238.0C734.0 1234.5 736.0 1233.1 738.0 1231.6C739.3 1230.6 740.7 1230.3 742.0 1230.6C744.0 1231.1 746.0 1232.5 748.0 1234.0C750.7 1236.0 753.3 1239.4 756.0 1241.0C759.3 1243.0 762.7 1244.3 766.0 1245.0C770.0 1245.8 774.0 1245.7 778.0 1245.4C782.0 1245.1 786.0 1244.8 790.0 1243.4C794.8 1241.7 799.6 1238.7 804.4 1236.0C810.3 1232.7 816.3 1230.5 822.2 1225.6C830.8 1218.5 839.5 1208.8 848.1 1200.0C854.0 1194.0 859.9 1188.3 865.8 1181.2C869.6 1176.6 873.3 1170.5 877.1 1164.9C880.6 1159.7 884.1 1154.3 887.6 1148.7C890.9 1143.5 894.2 1138.1 897.5 1132.5C900.6 1127.2 903.8 1121.8 906.9 1116.2C909.8 1111.0 912.7 1105.6 915.6 1100.0C919.0 1093.5 922.4 1086.9 925.8 1080.0C928.8 1073.9 931.9 1067.6 934.9 1061.0C937.9 1054.6 940.8 1047.8 943.8 1041.0C946.6 1034.5 949.5 1027.8 952.3 1021.0C954.9 1014.8 957.4 1008.6 960.0 1002.0C965.0 989.0 970.1 975.7 975.1 962.0C979.2 950.7 983.4 939.1 987.5 927.0C992.0 913.7 996.6 900.1 1001.1 886.0C1005.8 871.3 1010.6 855.9 1015.3 840.5C1020.1 824.9 1024.8 808.8 1029.6 793.0C1033.5 780.0 1037.5 766.3 1041.4 754.0C1044.8 743.3 1048.2 733.3 1051.6 724.0C1054.8 715.4 1057.9 707.6 1061.1 700.2C1064.1 693.2 1067.1 686.8 1070.1 680.7C1073.2 674.5 1076.2 668.8 1079.3 663.4C1082.4 658.0 1085.4 651.9 1088.5 648.2C1092.7 643.2 1096.9 640.5 1101.1 637.4C1104.8 634.7 1108.6 632.5 1112.3 630.9C1115.9 629.3 1119.6 628.5 1123.2 627.7C1125.4 627.2 1127.5 626.9 1129.7 627.2C1132.6 627.6 1135.4 628.3 1138.3 629.8C1141.9 631.7 1145.5 634.3 1149.1 637.4C1152.7 640.5 1156.4 643.5 1160.0 648.2C1163.6 652.9 1167.2 659.7 1170.8 665.5C1174.4 671.3 1178.0 676.4 1181.6 682.9C1185.2 689.4 1188.8 696.6 1192.4 704.5C1196.0 712.4 1199.6 721.8 1203.2 730.5C1206.8 739.2 1210.4 748.2 1214.0 756.5C1217.6 764.8 1221.3 772.3 1224.9 780.3C1228.5 788.2 1232.1 796.8 1235.7 804.0C1237.9 808.3 1240.0 811.9 1242.2 814.9C1245.8 819.9 1249.4 823.2 1253.0 827.9C1256.6 832.6 1260.3 837.9 1263.9 843.0C1267.5 848.0 1271.1 853.1 1274.7 858.2C1277.2 861.8 1279.8 864.3 1282.3 869.0C1284.8 873.7 1287.3 880.9 1289.8 886.3C1293.2 893.6 1296.6 899.6 1300.0 907.0C1303.3 914.2 1306.7 923.2 1310.0 930.0C1313.7 937.5 1317.3 943.3 1321.0 950.0C1325.3 957.9 1329.7 966.9 1334.0 973.6C1337.6 979.1 1341.2 981.2 1344.8 986.6C1348.4 992.0 1352.0 998.8 1355.6 1006.0C1359.2 1013.2 1362.9 1022.3 1366.5 1029.9C1370.8 1038.9 1375.1 1045.9 1379.4 1055.8C1382.3 1062.5 1385.2 1072.3 1388.1 1079.7C1391.7 1088.9 1395.3 1098.4 1398.9 1105.6C1402.5 1112.8 1406.1 1116.9 1409.7 1123.0C1413.1 1128.9 1416.6 1135.6 1420.0 1141.6C1423.6 1147.9 1427.2 1154.2 1430.8 1160.0C1434.4 1165.8 1438.0 1170.6 1441.6 1176.3C1445.2 1182.1 1448.9 1188.9 1452.5 1194.5C1456.1 1200.0 1459.7 1204.8 1463.3 1209.5C1466.9 1214.2 1470.5 1218.0 1474.1 1222.8C1477.7 1227.5 1481.3 1233.7 1484.9 1238.0C1488.5 1242.3 1492.2 1245.8 1495.8 1248.5C1499.4 1251.2 1503.0 1251.4 1506.6 1254.2C1510.2 1257.0 1513.8 1262.6 1517.4 1265.5C1520.3 1267.8 1523.2 1269.6 1526.1 1269.9C1530.4 1270.4 1534.7 1267.6 1539.0 1267.9C1542.6 1268.2 1546.3 1269.9 1549.9 1271.8C1553.5 1273.7 1557.1 1275.9 1560.7 1279.1C1564.3 1282.3 1567.9 1286.4 1571.5 1291.0C1574.4 1294.7 1577.3 1300.6 1580.2 1304.0C1583.1 1307.4 1585.9 1310.6 1588.8 1311.4C1591.7 1312.2 1594.6 1309.9 1597.5 1308.6C1600.7 1307.1 1603.8 1304.2 1607.0 1303.0C1609.6 1302.1 1612.1 1302.0 1614.7 1302.3C1618.5 1302.8 1622.2 1303.5 1626.0 1305.5C1629.3 1307.2 1632.5 1310.8 1635.8 1313.6C1639.1 1316.4 1642.3 1320.1 1645.6 1322.6C1647.7 1324.2 1649.9 1325.8 1652.0 1325.8C1654.7 1325.8 1657.5 1323.5 1660.2 1322.6C1662.9 1321.7 1665.6 1320.4 1668.3 1320.5C1671.0 1320.6 1673.7 1322.4 1676.4 1323.4C1679.7 1324.7 1682.9 1326.5 1686.2 1327.4C1690.0 1328.4 1693.7 1327.7 1697.5 1329.0C1700.8 1330.1 1704.0 1333.1 1707.3 1334.7C1710.0 1336.1 1712.7 1337.7 1715.4 1338.0C1718.1 1338.3 1720.8 1337.3 1723.5 1336.4C1726.7 1335.4 1730.0 1333.1 1733.2 1332.3C1737.5 1331.2 1741.9 1331.6 1746.2 1330.7C1747.8 1330.4 1749.4 1329.5 1751.0 1328.5C1753.2 1327.0 1755.5 1324.3 1757.7 1323.2C1760.3 1321.9 1762.8 1321.3 1765.4 1321.4C1767.5 1321.5 1769.5 1322.3 1771.6 1324.0C1774.7 1326.5 1777.7 1330.8 1780.8 1334.0C1784.4 1337.7 1788.0 1340.8 1791.6 1344.8C1794.7 1348.3 1797.8 1353.3 1800.9 1356.4C1802.9 1358.4 1805.0 1359.7 1807.0 1360.2C1809.1 1360.7 1811.1 1360.6 1813.2 1359.5C1815.8 1358.1 1818.4 1354.3 1821.0 1352.5C1823.0 1351.2 1825.0 1350.2 1827.0 1350.2C1829.6 1350.2 1832.2 1351.9 1834.8 1352.5C1837.4 1353.1 1839.9 1354.0 1842.5 1353.8C1845.1 1353.5 1847.6 1351.9 1850.2 1351.0C1852.8 1350.1 1855.4 1348.5 1858.0 1348.4C1860.6 1348.3 1863.1 1349.1 1865.7 1350.2C1868.8 1351.5 1871.9 1354.4 1875.0 1355.6C1878.1 1356.8 1881.1 1356.1 1884.2 1357.2C1886.8 1358.1 1889.4 1359.2 1892.0 1361.8C1894.0 1363.8 1896.0 1367.5 1898.0 1371.0C1900.1 1374.7 1902.1 1380.1 1904.2 1383.4C1906.3 1386.7 1908.3 1389.3 1910.4 1391.0C1912.9 1393.0 1915.5 1394.3 1918.0 1394.5C1921.7 1394.8 1925.3 1394.1 1929.0 1392.6C1932.1 1391.4 1935.1 1388.6 1938.2 1386.5C1940.8 1384.7 1943.3 1382.0 1945.9 1381.0C1947.4 1380.4 1949.0 1380.8 1950.5 1381.8C1952.6 1383.1 1954.6 1385.4 1956.7 1388.0C1958.7 1390.6 1960.8 1395.0 1962.8 1397.3C1964.4 1399.1 1965.9 1400.5 1967.5 1400.3C1969.5 1400.0 1971.6 1398.9 1973.6 1395.7C1976.2 1391.7 1978.7 1383.9 1981.3 1378.8C1983.4 1374.7 1985.4 1370.3 1987.5 1368.0C1990.6 1364.6 1993.7 1364.3 1996.8 1361.8C1998.9 1360.1 2000.9 1358.2 2003.0 1355.6C2004.3 1354.0 2005.5 1351.5 2006.8 1349.4C2008.5 1346.6 2010.3 1343.8 2012.0 1341.0"/>
<path stroke="#c47be4" d="M100.0 1433.3C104.0 1433.2 108.0 1433.1 112.0 1433.0C121.3 1432.7 130.7 1432.4 140.0 1432.0C155.3 1431.4 170.7 1431.2 186.0 1430.0C192.0 1429.5 198.0 1427.3 204.0 1427.0C210.7 1426.6 217.3 1428.0 224.0 1428.0C229.3 1428.0 234.7 1426.7 240.0 1427.0C245.3 1427.3 250.7 1429.4 256.0 1429.6C277.3 1430.3 298.7 1428.8 320.0 1429.6C328.0 1429.9 336.0 1432.2 344.0 1433.0C349.3 1433.5 354.7 1432.9 360.0 1433.6C368.0 1434.7 376.0 1437.8 384.0 1438.4C389.3 1438.8 394.7 1437.8 400.0 1436.4C404.0 1435.3 408.0 1433.2 412.0 1431.0C417.3 1428.1 422.7 1423.2 428.0 1421.0C434.7 1418.2 441.3 1418.7 448.0 1416.0C455.3 1413.0 462.7 1407.8 470.0 1404.0C474.7 1401.6 479.3 1398.7 484.0 1397.5C491.3 1395.7 498.7 1396.2 506.0 1395.0C512.7 1393.9 519.3 1391.5 526.0 1390.6C537.3 1389.1 548.7 1388.9 560.0 1388.0C568.0 1387.4 576.0 1386.4 584.0 1386.0C589.3 1385.7 594.7 1386.7 600.0 1386.0C606.7 1385.1 613.3 1382.5 620.0 1381.0C630.0 1378.8 640.0 1376.5 650.0 1375.0C657.3 1373.9 664.7 1374.1 672.0 1373.0C678.0 1372.1 684.0 1371.8 690.0 1369.0C693.3 1367.5 696.7 1364.5 700.0 1360.0C703.3 1355.5 706.7 1349.7 710.0 1342.0C713.3 1334.3 716.7 1323.3 720.0 1314.0C722.7 1306.6 725.3 1298.3 728.0 1292.0C730.0 1287.3 732.0 1283.7 734.0 1281.0C736.0 1278.3 738.0 1277.0 740.0 1276.0C741.3 1275.3 742.7 1275.2 744.0 1276.0C746.0 1277.2 748.0 1279.9 750.0 1282.0C753.3 1285.5 756.7 1290.1 760.0 1293.0C763.3 1295.9 766.7 1298.0 770.0 1299.6C773.3 1301.1 776.7 1301.9 780.0 1302.3C783.2 1302.7 786.5 1302.6 789.7 1302.0C794.6 1301.1 799.5 1299.2 804.4 1297.8C811.4 1295.8 818.5 1294.7 825.5 1292.0C832.0 1289.5 838.5 1286.2 845.0 1282.4C850.4 1279.2 855.8 1275.1 861.2 1271.0C866.6 1266.9 872.0 1262.8 877.4 1258.0C882.7 1253.3 888.1 1247.9 893.4 1242.6C898.9 1237.1 904.5 1231.5 910.0 1225.6C915.4 1219.9 920.8 1213.9 926.2 1207.7C931.5 1201.6 936.8 1195.2 942.1 1188.5C947.4 1181.8 952.7 1174.9 958.0 1167.5C962.9 1160.7 967.8 1153.5 972.7 1146.0C977.5 1138.7 982.2 1131.0 987.0 1123.0C991.5 1115.4 996.1 1107.2 1000.6 1099.0C1005.1 1090.9 1009.5 1082.3 1014.0 1074.0C1018.7 1065.3 1023.4 1056.5 1028.1 1048.0C1032.4 1040.2 1036.7 1032.5 1041.0 1025.0C1043.5 1020.6 1046.0 1016.4 1048.5 1012.5C1051.1 1008.5 1053.6 1004.4 1056.2 1001.3C1058.9 997.9 1061.7 995.4 1064.4 993.0C1067.1 990.7 1069.8 988.7 1072.5 987.2C1076.8 984.7 1081.2 982.7 1085.5 981.0C1088.0 980.0 1090.5 979.5 1093.0 979.0C1094.9 978.6 1096.8 978.1 1098.7 978.2C1103.0 978.5 1107.4 979.2 1111.7 980.3C1116.0 981.4 1120.4 982.8 1124.7 985.0C1129.0 987.2 1133.4 991.1 1137.7 993.8C1141.8 996.4 1145.9 998.0 1150.0 1001.0C1154.3 1004.2 1158.7 1007.8 1163.0 1012.6C1168.0 1018.2 1173.1 1025.3 1178.1 1032.0C1183.2 1038.8 1188.2 1044.8 1193.3 1053.0C1197.6 1060.0 1202.0 1070.7 1206.3 1077.5C1211.3 1085.4 1216.4 1090.2 1221.4 1097.0C1226.5 1103.9 1231.5 1112.4 1236.6 1118.6C1241.6 1124.7 1246.7 1128.6 1251.7 1133.8C1256.0 1138.3 1260.4 1144.2 1264.7 1147.8C1269.0 1151.4 1273.4 1152.2 1277.7 1155.4C1281.3 1158.0 1284.9 1160.5 1288.5 1165.2C1292.1 1169.9 1295.8 1177.7 1299.4 1183.5C1303.0 1189.2 1306.6 1195.5 1310.2 1199.8C1313.8 1204.1 1317.4 1207.0 1321.0 1209.5C1323.9 1211.5 1326.8 1212.8 1329.7 1213.4C1334.0 1214.3 1338.3 1212.5 1342.6 1213.9C1345.5 1214.8 1348.4 1217.7 1351.3 1220.3C1356.4 1224.9 1361.4 1230.8 1366.5 1235.5C1370.8 1239.5 1375.1 1241.6 1379.4 1246.3C1383.7 1251.0 1388.1 1258.5 1392.4 1263.6C1396.0 1267.9 1399.6 1271.7 1403.2 1274.5C1409.0 1279.0 1414.8 1282.0 1420.6 1285.3C1425.6 1288.1 1430.7 1290.8 1435.7 1292.9C1439.3 1294.4 1442.9 1294.5 1446.5 1296.0C1449.3 1297.2 1452.2 1299.2 1455.0 1301.0C1459.0 1303.5 1463.0 1306.0 1467.0 1309.0C1471.3 1312.3 1475.7 1315.7 1480.0 1320.0C1482.7 1322.7 1485.3 1327.5 1488.0 1329.9C1490.7 1332.3 1493.5 1333.5 1496.2 1334.4C1501.1 1336.0 1505.9 1335.6 1510.8 1337.2C1515.1 1338.7 1519.5 1342.3 1523.8 1343.7C1527.6 1345.0 1531.4 1344.8 1535.2 1345.3C1539.5 1345.9 1543.9 1346.7 1548.2 1347.0C1552.5 1347.3 1556.9 1347.0 1561.2 1347.0C1565.0 1347.0 1568.7 1345.9 1572.5 1347.0C1575.2 1347.8 1577.9 1350.5 1580.6 1352.6C1583.9 1355.1 1587.1 1358.2 1590.4 1360.7C1594.2 1363.6 1598.0 1365.9 1601.8 1368.8C1605.5 1371.6 1609.3 1375.6 1613.0 1377.8C1615.2 1379.1 1617.4 1379.4 1619.6 1379.4C1621.7 1379.4 1623.9 1378.6 1626.0 1377.8C1629.3 1376.7 1632.5 1374.6 1635.8 1373.7C1640.1 1372.5 1644.5 1372.5 1648.8 1371.3C1652.1 1370.4 1655.3 1368.2 1658.6 1367.2C1660.7 1366.6 1662.9 1365.9 1665.0 1366.4C1667.2 1367.0 1669.4 1368.9 1671.6 1370.5C1674.3 1372.4 1677.0 1375.4 1679.7 1377.0C1681.9 1378.3 1684.0 1379.0 1686.2 1379.4C1689.5 1380.0 1692.7 1379.1 1696.0 1379.9C1699.8 1380.8 1703.5 1383.0 1707.3 1384.3C1710.0 1385.2 1712.7 1386.6 1715.4 1386.4C1718.1 1386.3 1720.8 1384.1 1723.5 1383.4C1726.7 1382.6 1730.0 1382.3 1733.2 1381.8C1736.5 1381.3 1739.7 1381.1 1743.0 1380.5C1746.2 1379.9 1749.5 1378.5 1752.7 1378.2C1754.6 1378.1 1756.6 1378.0 1758.5 1379.3C1760.8 1380.8 1763.1 1383.6 1765.4 1386.5C1767.9 1389.6 1770.5 1394.8 1773.0 1397.3C1775.3 1399.6 1777.7 1401.0 1780.0 1401.0C1782.3 1401.0 1784.7 1399.0 1787.0 1397.3C1789.6 1395.4 1792.1 1392.0 1794.7 1390.3C1797.3 1388.6 1799.8 1387.8 1802.4 1387.2C1805.5 1386.5 1808.6 1386.6 1811.7 1386.5C1815.3 1386.4 1818.9 1385.9 1822.5 1386.8C1825.1 1387.4 1827.6 1389.8 1830.2 1391.0C1832.8 1392.2 1835.4 1394.4 1838.0 1393.9C1840.5 1393.4 1843.1 1390.5 1845.6 1388.0C1847.7 1386.0 1849.7 1382.5 1851.8 1380.3C1853.9 1378.1 1855.9 1375.9 1858.0 1375.0C1859.5 1374.3 1861.1 1374.7 1862.6 1375.4C1865.2 1376.7 1867.7 1379.7 1870.3 1381.0C1872.9 1382.3 1875.4 1383.4 1878.0 1383.4C1880.6 1383.4 1883.1 1380.9 1885.7 1381.0C1888.3 1381.1 1890.8 1381.6 1893.4 1384.0C1895.5 1386.0 1897.5 1390.2 1899.6 1394.2C1901.7 1398.2 1903.7 1403.6 1905.8 1408.0C1907.9 1412.4 1909.9 1416.5 1912.0 1420.4C1914.0 1424.2 1916.0 1427.9 1918.0 1431.2C1920.1 1434.6 1922.2 1437.7 1924.3 1440.4C1926.3 1443.1 1928.4 1445.9 1930.4 1447.4C1931.9 1448.6 1933.5 1449.1 1935.0 1448.5C1937.1 1447.8 1939.1 1445.9 1941.2 1443.5C1943.3 1441.1 1945.3 1436.6 1947.4 1434.3C1949.5 1432.0 1951.5 1429.6 1953.6 1429.6C1955.6 1429.6 1957.7 1432.3 1959.7 1434.3C1961.8 1436.4 1963.9 1440.2 1966.0 1442.0C1968.0 1443.7 1970.0 1444.8 1972.0 1445.0C1974.1 1445.3 1976.2 1444.6 1978.3 1443.5C1980.9 1442.1 1983.4 1439.2 1986.0 1437.4C1988.6 1435.6 1991.1 1434.7 1993.7 1432.7C1995.7 1431.1 1997.8 1429.5 1999.8 1426.6C2001.4 1424.4 2002.9 1420.8 2004.5 1417.3C2005.3 1415.6 2006.0 1413.3 2006.8 1411.0C2007.9 1407.8 2008.9 1404.3 2010.0 1401.0"/>
<path stroke="#de9c00" d="M100.0 1430.5C104.0 1430.3 108.0 1430.2 112.0 1430.0C121.3 1429.4 130.7 1428.6 140.0 1428.0C155.3 1427.0 170.7 1426.5 186.0 1425.0C192.0 1424.4 198.0 1421.9 204.0 1421.6C216.0 1420.9 228.0 1422.1 240.0 1422.0C260.0 1421.8 280.0 1421.1 300.0 1420.6C310.0 1420.3 320.0 1419.7 330.0 1419.6C340.0 1419.5 350.0 1419.6 360.0 1420.0C366.7 1420.3 373.3 1421.6 380.0 1421.6C386.7 1421.6 393.3 1421.8 400.0 1420.0C406.7 1418.2 413.3 1413.8 420.0 1411.0C426.7 1408.2 433.3 1405.8 440.0 1403.0C446.7 1400.2 453.3 1396.4 460.0 1394.0C466.7 1391.6 473.3 1390.0 480.0 1388.5C488.7 1386.5 497.3 1385.4 506.0 1383.6C512.7 1382.2 519.3 1380.4 526.0 1379.0C537.3 1376.6 548.7 1374.3 560.0 1372.0C573.3 1369.3 586.7 1366.9 600.0 1364.0C608.0 1362.2 616.0 1360.8 624.0 1358.0C631.3 1355.4 638.7 1350.0 646.0 1348.0C652.0 1346.3 658.0 1347.9 664.0 1347.0C672.7 1345.7 681.3 1344.7 690.0 1341.6C693.3 1340.4 696.7 1338.3 700.0 1334.0C703.3 1329.7 706.7 1323.0 710.0 1316.0C713.3 1309.0 716.7 1300.1 720.0 1292.0C722.7 1285.5 725.3 1277.2 728.0 1272.0C730.7 1266.8 733.3 1263.4 736.0 1261.0C738.7 1258.6 741.3 1257.9 744.0 1257.6C746.0 1257.4 748.0 1258.5 750.0 1259.6C753.3 1261.3 756.7 1264.4 760.0 1266.0C763.3 1267.6 766.7 1268.6 770.0 1269.0C773.3 1269.4 776.7 1269.1 780.0 1268.6C783.2 1268.1 786.5 1267.9 789.7 1266.2C794.6 1263.7 799.5 1259.4 804.4 1256.0C810.3 1251.8 816.3 1248.3 822.2 1243.4C828.1 1238.5 834.1 1232.4 840.0 1226.5C848.7 1217.9 857.3 1209.7 866.0 1200.0C870.8 1194.6 875.5 1187.7 880.3 1181.2C884.1 1176.0 887.8 1170.5 891.6 1164.9C895.1 1159.7 898.6 1154.3 902.1 1148.7C905.3 1143.5 908.6 1138.1 911.8 1132.5C914.8 1127.3 917.9 1121.8 920.9 1116.2C923.7 1111.0 926.5 1105.6 929.3 1100.0C932.2 1094.2 935.1 1088.2 938.0 1082.0C940.9 1075.8 943.8 1069.6 946.7 1063.0C949.7 1056.2 952.7 1049.2 955.7 1042.0C958.7 1034.9 961.6 1027.4 964.6 1020.0C967.8 1012.1 970.9 1004.2 974.1 996.0C979.3 982.6 984.4 969.0 989.6 955.0C994.4 942.1 999.1 928.9 1003.9 915.5C1008.4 902.9 1012.8 890.1 1017.3 877.0C1021.4 864.9 1025.6 852.3 1029.7 840.0C1034.1 827.0 1038.4 812.8 1042.8 801.0C1048.2 786.3 1053.6 772.9 1059.0 760.5C1062.9 751.6 1066.8 744.3 1070.7 737.0C1074.1 730.7 1077.4 725.1 1080.8 719.7C1084.2 714.3 1087.6 708.6 1091.0 704.5C1094.6 700.3 1098.1 697.3 1101.7 694.8C1105.2 692.3 1108.8 691.1 1112.3 689.4C1115.2 688.0 1118.1 686.3 1121.0 685.5C1123.2 684.9 1125.3 684.6 1127.5 685.0C1130.4 685.5 1133.2 686.6 1136.1 688.3C1139.7 690.5 1143.4 693.8 1147.0 696.9C1151.3 700.6 1155.7 703.8 1160.0 708.8C1162.9 712.1 1165.7 717.6 1168.6 721.8C1172.2 727.0 1175.8 730.9 1179.4 737.0C1182.6 742.4 1185.8 749.8 1189.0 756.5C1192.7 764.2 1196.3 772.7 1200.0 780.3C1204.0 788.5 1207.9 795.7 1211.9 804.0C1215.5 811.5 1219.1 819.9 1222.7 827.9C1226.3 835.9 1229.9 843.8 1233.5 851.7C1237.1 859.7 1240.8 867.8 1244.4 875.5C1247.3 881.5 1250.1 887.9 1253.0 892.8C1256.6 899.0 1260.3 904.4 1263.9 909.0C1268.2 914.5 1272.5 918.5 1276.8 923.0C1280.5 926.9 1284.3 928.3 1288.0 934.0C1292.5 940.9 1297.0 951.7 1301.5 960.6C1306.6 970.6 1311.6 981.1 1316.7 990.9C1321.7 1000.6 1326.8 1010.8 1331.8 1019.0C1336.1 1026.0 1340.5 1029.3 1344.8 1036.4C1348.4 1042.3 1352.0 1050.5 1355.6 1058.0C1359.9 1067.0 1364.3 1077.4 1368.6 1086.1C1372.9 1094.8 1377.3 1102.4 1381.6 1110.0C1385.9 1117.6 1390.3 1125.4 1394.6 1131.6C1400.4 1139.8 1406.1 1144.3 1411.9 1153.2C1415.5 1158.7 1419.1 1167.3 1422.7 1174.9C1425.6 1181.0 1428.5 1190.2 1431.4 1194.4C1436.4 1201.7 1441.5 1203.0 1446.5 1209.5C1448.5 1212.1 1450.5 1218.3 1452.5 1221.5C1456.1 1227.2 1459.7 1231.4 1463.3 1236.0C1466.9 1240.6 1470.5 1244.9 1474.1 1249.0C1476.2 1251.4 1478.4 1253.4 1480.5 1255.5C1483.6 1258.4 1486.6 1261.9 1489.7 1264.0C1494.0 1266.9 1498.4 1267.3 1502.7 1270.6C1506.0 1273.1 1509.2 1277.2 1512.5 1281.2C1515.2 1284.5 1517.9 1289.6 1520.6 1292.5C1524.4 1296.6 1528.2 1299.6 1532.0 1302.3C1535.8 1305.0 1539.5 1306.2 1543.3 1308.8C1546.5 1311.0 1549.8 1314.8 1553.0 1316.9C1557.9 1320.2 1562.8 1321.9 1567.7 1325.0C1571.5 1327.4 1575.2 1331.3 1579.0 1333.4C1581.2 1334.6 1583.3 1335.2 1585.5 1335.0C1588.2 1334.8 1590.9 1333.4 1593.6 1332.3C1595.7 1331.4 1597.9 1329.4 1600.0 1329.0C1602.2 1328.6 1604.4 1328.3 1606.6 1329.9C1609.3 1331.8 1612.0 1336.9 1614.7 1339.6C1617.4 1342.3 1620.2 1344.4 1622.9 1346.0C1626.7 1348.2 1630.4 1349.6 1634.2 1351.0C1638.0 1352.4 1641.8 1353.7 1645.6 1354.2C1648.3 1354.5 1651.0 1354.1 1653.7 1353.4C1656.9 1352.5 1660.2 1349.8 1663.4 1349.4C1667.2 1349.0 1671.0 1350.6 1674.8 1351.0C1678.6 1351.4 1682.4 1351.8 1686.2 1351.8C1689.5 1351.8 1692.7 1350.1 1696.0 1351.0C1698.7 1351.7 1701.3 1354.4 1704.0 1356.7C1707.3 1359.5 1710.5 1364.0 1713.8 1366.4C1717.0 1368.8 1720.3 1370.1 1723.5 1371.3C1727.3 1372.8 1731.1 1373.9 1734.9 1374.5C1738.1 1375.0 1741.4 1375.8 1744.6 1374.5C1746.7 1373.6 1748.9 1370.3 1751.0 1368.0C1753.2 1365.6 1755.5 1361.9 1757.7 1360.2C1760.3 1358.3 1762.8 1357.1 1765.4 1357.2C1767.9 1357.3 1770.5 1359.2 1773.0 1361.0C1776.1 1363.3 1779.3 1367.0 1782.4 1369.5C1786.0 1372.4 1789.6 1375.0 1793.2 1377.2C1796.8 1379.4 1800.4 1381.7 1804.0 1382.6C1806.6 1383.2 1809.1 1382.4 1811.7 1381.8C1814.3 1381.2 1816.8 1378.9 1819.4 1378.8C1821.9 1378.7 1824.5 1379.2 1827.0 1381.0C1829.6 1382.8 1832.2 1387.0 1834.8 1389.5C1836.9 1391.4 1838.9 1393.4 1841.0 1394.2C1843.1 1395.0 1845.1 1395.1 1847.2 1394.5C1849.8 1393.8 1852.3 1391.6 1854.9 1390.3C1857.5 1389.0 1860.0 1387.2 1862.6 1386.5C1866.2 1385.5 1869.8 1385.7 1873.4 1385.0C1876.5 1384.4 1879.5 1382.0 1882.6 1382.6C1884.7 1383.0 1886.7 1385.0 1888.8 1388.0C1890.9 1391.0 1892.9 1396.1 1895.0 1400.3C1897.0 1404.3 1899.0 1409.3 1901.0 1412.7C1903.1 1416.3 1905.2 1419.5 1907.3 1421.2C1909.9 1423.3 1912.4 1424.5 1915.0 1424.3C1918.1 1424.0 1921.2 1421.7 1924.3 1419.6C1927.9 1417.2 1931.4 1414.0 1935.0 1411.0C1938.1 1408.4 1941.2 1404.7 1944.3 1402.7C1946.4 1401.4 1948.4 1400.6 1950.5 1401.0C1952.6 1401.4 1954.6 1403.7 1956.7 1405.0C1959.3 1406.7 1961.8 1409.1 1964.4 1410.0C1966.4 1410.7 1968.5 1410.4 1970.5 1409.6C1973.1 1408.5 1975.7 1405.6 1978.3 1404.2C1980.9 1402.8 1983.4 1401.0 1986.0 1401.0C1988.0 1401.0 1990.0 1403.5 1992.0 1404.2C1994.1 1404.9 1996.2 1405.7 1998.3 1405.3C1999.9 1405.0 2001.4 1403.8 2003.0 1402.0C2004.3 1400.6 2005.5 1398.0 2006.8 1395.7C2008.5 1392.6 2010.3 1389.2 2012.0 1386.0"/>
</g>
<g fill="#000">
<rect x="106" y="45" width="6" height="1567"/>
<rect x="78" y="1579" width="1932" height="6"/>
<rect x="93" y="141" width="14" height="7"/>
<rect x="78" y="620" width="29" height="7"/>
<rect x="93" y="1099" width="14" height="7"/>
<rect x="518.30" y="1580" width="6" height="32"/>
<rect x="930.80" y="1580" width="6" height="32"/>
<rect x="1343.30" y="1580" width="6" height="32"/>
<rect x="1755.80" y="1580" width="6" height="32"/>
<rect x="312.05" y="1580" width="6" height="17"/>
<rect x="724.55" y="1580" width="6" height="17"/>
<rect x="1137.05" y="1580" width="6" height="17"/>
<rect x="1549.55" y="1580" width="6" height="17"/>
<rect x="1962.05" y="1580" width="6" height="17"/>
</g>
<text x="107.5" y="1694" font-size="91.2" text-anchor="middle" textLength="178" lengthAdjust="spacingAndGlyphs">2400</text>
<text x="520.0" y="1694" font-size="91.2" text-anchor="middle" textLength="178" lengthAdjust="spacingAndGlyphs">2350</text>
<text x="932.5" y="1694" font-size="91.2" text-anchor="middle" textLength="178" lengthAdjust="spacingAndGlyphs">2300</text>
<text x="1345.0" y="1694" font-size="91.2" text-anchor="middle" textLength="178" lengthAdjust="spacingAndGlyphs">2250</text>
<text x="1757.5" y="1694" font-size="91.2" text-anchor="middle" textLength="178" lengthAdjust="spacingAndGlyphs">2200</text>
<text x="672.4 759.1 804.6 850.9 894.3 945.2 997.5 1072.7 1118.8 1162.6 1200.0 1216.3 1244.1 1287.4" y="1834" font-size="89.5">Wavenumber (cm<tspan x="1360.3 1377.9" dy="-35.8" font-size="62.4">-1</tspan><tspan x="1408.8" dy="35.8" font-size="89.5">)</tspan></text>
<rect x="1457" y="99.5" width="522.5" height="777.9" fill="#fff" stroke="#000" stroke-width="3.4"/>
<line x1="1468.5" y1="168.5" x2="1700.5" y2="168.5" stroke="#757575" stroke-width="5" stroke-linecap="round" shape-rendering="crispEdges"/>
<text x="1721.1 1776.5 1828.5 1894.7 1920.8" y="201.6" font-size="91.5">LPO-1</text>
<line x1="1468.5" y1="296.5" x2="1700.5" y2="296.5" stroke="#ff3c3c" stroke-width="5" stroke-linecap="round" shape-rendering="crispEdges"/>
<text x="1721.1 1776.5 1828.5 1894.7 1920.8" y="329.6" font-size="91.5">LPO-2</text>
<line x1="1468.5" y1="424.5" x2="1700.5" y2="424.5" stroke="#0070e5" stroke-width="5" stroke-linecap="round" shape-rendering="crispEdges"/>
<text x="1721.1 1776.5 1828.5 1894.7 1920.8" y="457.6" font-size="91.5">LPO-3</text>
<line x1="1468.5" y1="552.5" x2="1700.5" y2="552.5" stroke="#00ae6b" stroke-width="5" stroke-linecap="round" shape-rendering="crispEdges"/>
<text x="1718.7 1769.7 1820.7 1886.9 1913.7" y="585.6" font-size="91.5">SPO-1</text>
<line x1="1468.5" y1="680.5" x2="1700.5" y2="680.5" stroke="#c47be4" stroke-width="5" stroke-linecap="round" shape-rendering="crispEdges"/>
<text x="1718.7 1769.7 1820.7 1886.9 1913.7" y="713.6" font-size="91.5">SPO-2</text>
<line x1="1468.5" y1="808.5" x2="1700.5" y2="808.5" stroke="#de9c00" stroke-width="5" stroke-linecap="round" shape-rendering="crispEdges"/>
<text x="1718.7 1769.7 1820.7 1886.9 1913.7" y="841.6" font-size="91.5">SPO-3</text>
</svg></body></html>
